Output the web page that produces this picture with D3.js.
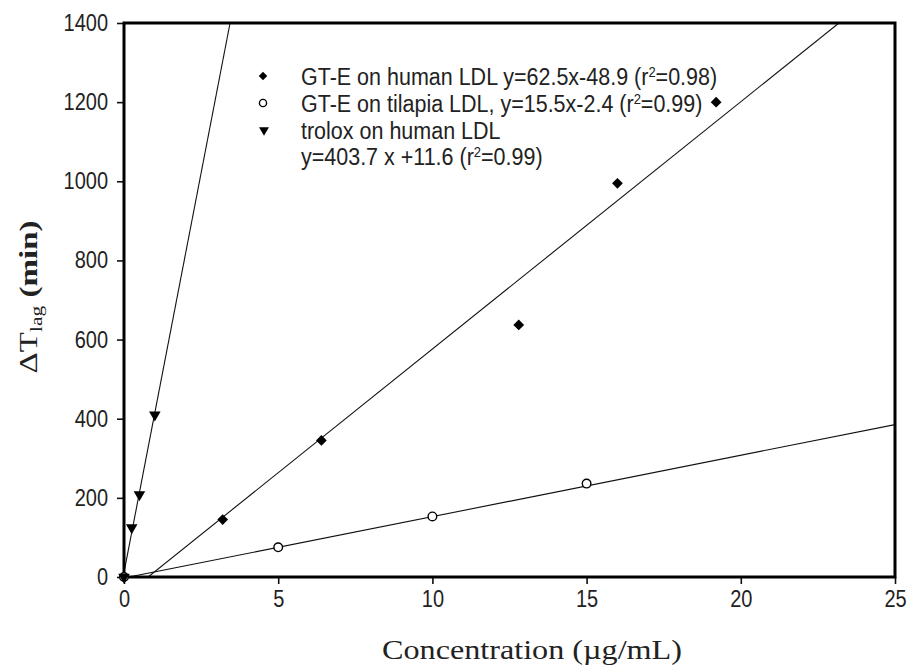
<!DOCTYPE html>
<html>
<head>
<meta charset="utf-8">
<script src="https://cdn.jsdelivr.net/npm/d3@7"></script>
<style>
  body { margin: 0; background: #fff; }
  .stretch { transform-box: fill-box; transform-origin: center; transform: scaleY(1.15); }
</style>
</head>
<body>
<svg id="chart"></svg>
<script>
// data
const humanConc = [0, 3.2, 6.4, 12.8, 16, 19.2];
const humanLag = [0, 145, 345, 637, 995, 1200];
const tilapiaConc = [0, 5, 10, 15];
const tilapiaLag = [0, 75, 153, 236];
const troloxConc = [0, 0.25, 0.5, 1];
const troloxLag = [0, 125, 208, 410];
// regression lines: slope, intercept
const fitSlopes = [62.5, 15.5, 403.7];
const fitIntercepts = [-48.9, -2.4, 11.6];
const xTicks = [0, 5, 10, 15, 20, 25];
const yTicks = [0, 200, 400, 600, 800, 1000, 1200, 1400];
const legendLabels = [
    ["GT-E on human LDL y=62.5x-48.9 (r", "=0.98)"],
    ["GT-E on tilapia LDL, y=15.5x-2.4 (r", "=0.99)"],
    ["trolox on human LDL"]
];
const legendLine4 = ["y=403.7 x +11.6 (r", "=0.99)"];

const width = 909, height = 669;
const margin = { top: 23, right: 14, bottom: 92, left: 124 };

const svg = d3.select("#chart")
    .attr("width", width)
    .attr("height", height);

const x = d3.scaleLinear().domain([0, 25]).range([margin.left, width - margin.right]);
const y = d3.scaleLinear().domain([0, 1400]).range([height - margin.bottom, margin.top]);

svg.append("clipPath").attr("id", "plotclip")
    .append("rect")
    .attr("x", margin.left).attr("y", margin.top)
    .attr("width", x(25) - x(0)).attr("height", y(0) - y(1400));

// fit lines
const plot = svg.append("g").attr("clip-path", "url(#plotclip)");
fitSlopes.forEach((m, i) => {
    const b = fitIntercepts[i];
    const x0 = Math.max(0, -b / m);
    const x1 = Math.min(25, (1400 - b) / m);
    plot.append("line")
        .attr("x1", x(x0)).attr("y1", y(m * x0 + b))
        .attr("x2", x(x1)).attr("y2", y(m * x1 + b))
        .attr("stroke", "#111")
        .attr("stroke-width", 1.1);
});

// axes
const xAxis = svg.append("g")
    .attr("transform", `translate(0,${y(0)})`)
    .call(d3.axisBottom(x).tickValues(xTicks).tickFormat(d3.format("d")).tickSize(7).tickPadding(8));
const yAxis = svg.append("g")
    .attr("transform", `translate(${x(0)},0)`)
    .call(d3.axisLeft(y).tickValues(yTicks).tickFormat(d3.format("d")).tickSize(7).tickPadding(9));
[xAxis, yAxis].forEach(g => {
    g.select(".domain").remove();
    g.selectAll(".tick line").attr("stroke", "#111").attr("stroke-width", 1.6);
    g.selectAll(".tick text")
        .attr("class", "stretch")
        .style("font-family", "Arial, 'Liberation Sans', sans-serif")
        .style("font-size", "20px")
        .attr("fill", "#222");
});

// frame
svg.append("rect")
    .attr("x", x(0)).attr("y", y(1400))
    .attr("width", x(25) - x(0)).attr("height", y(0) - y(1400))
    .attr("fill", "none")
    .attr("stroke", "#000")
    .attr("stroke-width", 3);

// markers
const diamond = d3.symbol().type(d3.symbolSquare);
const tri = d3.symbol().type(d3.symbolTriangle);

svg.append("g").selectAll("path")
    .data(humanConc.map((c, i) => [c, humanLag[i]]))
    .join("path")
    .attr("d", diamond.size(58)())
    .attr("transform", d => `translate(${x(d[0])},${y(d[1])}) rotate(45)`)
    .attr("fill", "#000");

svg.append("g").selectAll("circle")
    .data(tilapiaConc.map((c, i) => [c, tilapiaLag[i]]))
    .join("circle")
    .attr("cx", d => x(d[0]))
    .attr("cy", d => y(d[1]))
    .attr("r", 4.3)
    .attr("fill", "#fff")
    .attr("stroke", "#000")
    .attr("stroke-width", 1.4);

svg.append("g").selectAll("path")
    .data(troloxConc.map((c, i) => [c, troloxLag[i]]))
    .join("path")
    .attr("d", tri.size(58)())
    .attr("transform", d => `translate(${x(d[0])},${y(d[1])}) rotate(180)`)
    .attr("fill", "#000");

// legend
const legend = svg.append("g")
    .style("font-family", "Arial, 'Liberation Sans', sans-serif")
    .style("font-size", "21.5px")
    .attr("fill", "#222");
const rowY = [76, 103, 130];
legend.append("path")
    .attr("d", diamond.size(36)())
    .attr("transform", `translate(263,${rowY[0]}) rotate(45)`)
    .attr("fill", "#000");
legend.append("circle")
    .attr("cx", 263).attr("cy", rowY[1]).attr("r", 3.6)
    .attr("fill", "#fff").attr("stroke", "#000").attr("stroke-width", 1.4);
legend.append("path")
    .attr("d", tri.size(42)())
    .attr("transform", `translate(264,${rowY[2]}) rotate(180)`)
    .attr("fill", "#000");

function legendText(parts, ty) {
    const t = legend.append("text")
        .attr("class", "stretch")
        .attr("x", 301)
        .attr("y", ty);
    t.append("tspan").text(parts[0]);
    if (parts.length > 1) {
        t.append("tspan").attr("dy", -7).style("font-size", "13px").text("2");
        t.append("tspan").attr("dy", 7).text(parts[1]);
    }
}
legendLabels.forEach((parts, i) => legendText(parts, rowY[i] + 8));
legendText(legendLine4, rowY[2] + 34);

// axis titles
svg.append("text")
    .attr("x", 532)
    .attr("y", 659)
    .attr("text-anchor", "middle")
    .style("font-family", "'Times New Roman', 'Liberation Serif', serif")
    .style("font-size", "28px")
    .attr("fill", "#222")
    .attr("textLength", 300)
    .attr("lengthAdjust", "spacingAndGlyphs")
    .text("Concentration (\u00b5g/mL)");

const yt = svg.append("g")
    .attr("transform", "translate(37,297) rotate(-90)");
const ytext = yt.append("text")
    .attr("text-anchor", "middle")
    .style("font-family", "'Times New Roman', 'Liberation Serif', serif")
    .style("font-size", "26px")
    .attr("fill", "#222");
ytext.append("tspan").text("\u0394T");
ytext.append("tspan").attr("dy", 5).style("font-size", "17px").text("lag");
ytext.append("tspan").attr("dy", -5).style("font-weight", "bold").text(" (min)");
const len = ytext.node().getComputedTextLength();
ytext.attr("transform", `scale(${153 / len},1)`);
</script>
</body>
</html>
